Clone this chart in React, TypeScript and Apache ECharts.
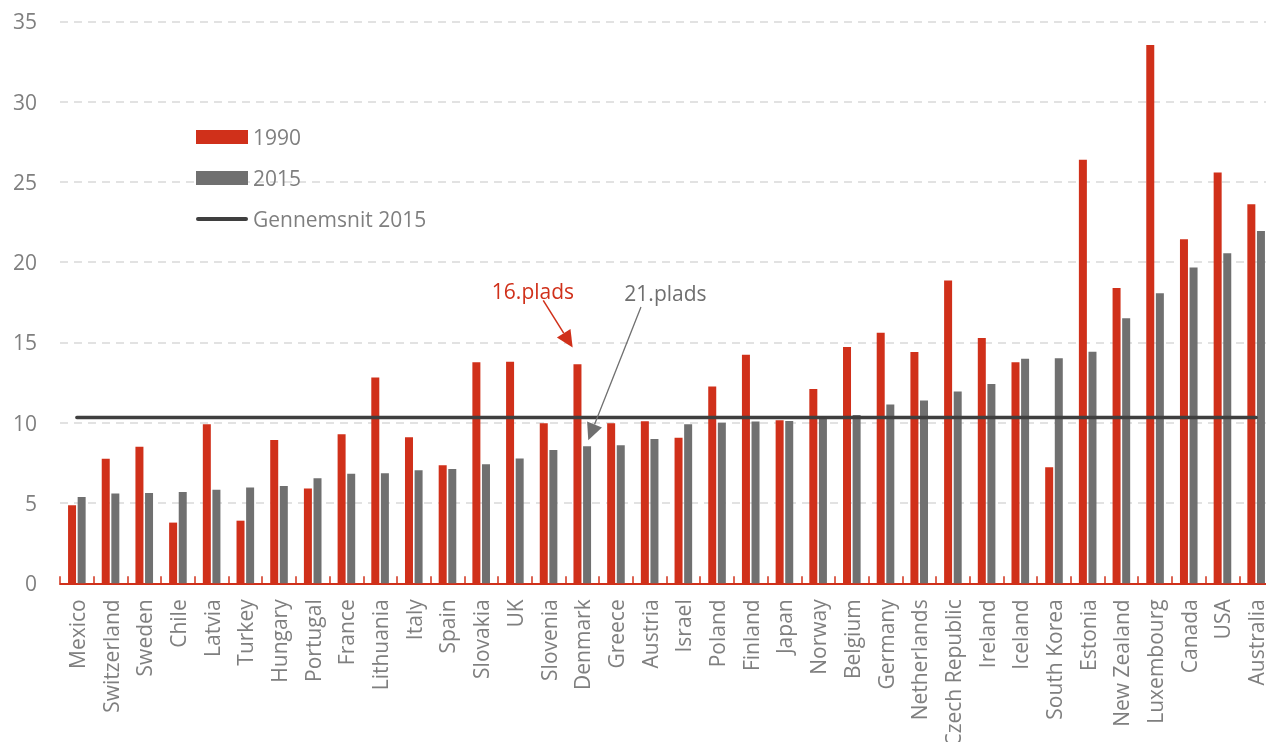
import { useEffect, useRef } from "react";
import * as echarts from "echarts";

const countries = [
  "Mexico", "Switzerland", "Sweden", "Chile", "Latvia", "Turkey", "Hungary", "Portugal", "France",
  "Lithuania", "Italy", "Spain", "Slovakia", "UK", "Slovenia", "Denmark", "Greece", "Austria",
  "Israel", "Poland", "Finland", "Japan", "Norway", "Belgium", "Germany", "Netherlands",
  "Czech Republic", "Ireland", "Iceland", "South Korea", "Estonia", "New Zealand", "Luxembourg",
  "Canada", "USA", "Australia",
];
const values1990 = [
  4.86, 7.76, 8.51, 3.78, 9.9, 3.9, 8.92, 5.9, 9.28, 12.81, 9.09, 7.35, 13.76, 13.8, 9.96, 13.64,
  9.96, 10.09, 9.07, 12.25, 14.24, 10.15, 12.1, 14.72, 15.61, 14.41, 18.85, 15.27, 13.77, 7.22,
  26.38, 18.39, 33.52, 21.42, 25.59, 23.61,
];
const values2015 = [
  5.37, 5.6, 5.62, 5.69, 5.83, 5.96, 6.06, 6.54, 6.83, 6.85, 7.04, 7.12, 7.41, 7.78, 8.3, 8.53,
  8.59, 8.99, 9.9, 10.0, 10.07, 10.1, 10.25, 10.48, 11.13, 11.39, 11.94, 12.41, 13.99, 14.01,
  14.42, 16.51, 18.06, 19.66, 20.56, 21.94,
];
const average2015 = 10.33;
const yTicks = { min: 0, max: 35, interval: 5 };
const legendNames = ["1990", "2015", "Gennemsnit 2015"];
const annotationCountry = "Denmark";
const annotationTexts = ["16.plads", "21.plads"];

const RED = "#d0301a";
const GRAY = "#707070";
const DARK = "#3f3f3f";
const LABEL = "#7f7f7f";
const FONT = "Open Sans";

function arrow(x1: number, y1: number, x2: number, y2: number, color: string, L: number, W: number, lw: number) {
  const dx = x2 - x1;
  const dy = y2 - y1;
  const len = Math.sqrt(dx * dx + dy * dy);
  const ux = dx / len;
  const uy = dy / len;
  const bx = x2 - ux * L;
  const by = y2 - uy * L;
  const px = -uy;
  const py = ux;
  return [
    { type: "line", silent: true, z: 100, shape: { x1, y1, x2: bx, y2: by }, style: { stroke: color, lineWidth: lw } },
    {
      type: "polygon",
      silent: true,
      z: 100,
      shape: { points: [[x2, y2], [bx + px * W, by + py * W], [bx - px * W, by - py * W]] },
      style: { fill: color },
    },
  ];
}

export default function App() {
  const ref = useRef<HTMLDivElement>(null);
  useEffect(() => {
    if (!ref.current) return;
    const chart = echarts.init(ref.current, undefined, { renderer: "svg" });
    chart.setOption({
      animation: false,
      textStyle: { fontFamily: FONT },
      grid: { left: 60, top: 21.3, width: 1213, bottom: 158.7, containLabel: false, outerBoundsMode: "none" },
      legend: {
        orient: "vertical",
        left: 196,
        top: 126.5,
        padding: 0,
        itemWidth: 52,
        itemHeight: 14,
        itemGap: 20,
        textStyle: { fontSize: 21, color: LABEL, fontFamily: FONT, lineHeight: 21 },
        data: [
          { name: legendNames[0], icon: "rect" },
          { name: legendNames[1], icon: "rect" },
          { name: legendNames[2], icon: "path://M2,0H50A2,2,0,0,1,50,4H2A2,2,0,0,1,2,0Z", itemStyle: { color: DARK } },
        ],
      },
      xAxis: {
        type: "category",
        data: countries,
        axisLine: { lineStyle: { color: RED, width: 2 } },
        axisTick: { show: true, inside: true, length: 7, lineStyle: { color: RED, width: 1.5 } },
        axisLabel: { rotate: 90, fontSize: 21, color: LABEL, fontFamily: FONT, margin: 16, interval: 0 },
        splitLine: { show: false },
      },
      yAxis: {
        type: "value",
        min: yTicks.min,
        max: yTicks.max,
        interval: yTicks.interval,
        axisLine: { show: false },
        axisTick: { show: false },
        axisLabel: { fontSize: 21, color: LABEL, fontFamily: FONT, margin: 23 },
        splitLine: { lineStyle: { color: "#d9d9d9", type: [8, 6], width: 1.5 } },
      },
      series: [
        { name: legendNames[0], type: "bar", data: values1990, barWidth: 8, barGap: "20%", itemStyle: { color: RED } },
        { name: legendNames[1], type: "bar", data: values2015, barWidth: 8, barGap: "20%", itemStyle: { color: GRAY } },
        {
          name: legendNames[2],
          type: "line",
          data: countries.map(() => average2015),
          symbol: "none",
          z: 5,
          lineStyle: { color: DARK, width: 3.5, cap: "round" },
          itemStyle: { color: DARK },
        },
      ],
    });

    const p = chart.convertToPixel({ xAxisIndex: 0, yAxisIndex: 0 }, [annotationCountry, 0]) as number[];
    const xc = p[0];
    const y0 = p[1];
    const graphic: any[] = [
      {
        type: "text",
        silent: true,
        z: 100,
        style: {
          text: annotationTexts[0],
          x: xc - 49.3,
          y: y0 - 292,
          fill: RED,
          fontSize: 21,
          fontFamily: FONT,
          align: "center",
          verticalAlign: "middle",
        },
      },
      {
        type: "text",
        silent: true,
        z: 100,
        style: {
          text: annotationTexts[1],
          x: xc + 83.2,
          y: y0 - 290,
          fill: "#6f6f6f",
          fontSize: 21,
          fontFamily: FONT,
          align: "center",
          verticalAlign: "middle",
        },
      },
      ...arrow(xc - 39, y0 - 283, xc - 9.6, y0 - 235.7, RED, 17, 8, 1.5),
      ...arrow(xc + 58.7, y0 - 276.3, xc + 6, y0 - 143, "#6f6f6f", 17, 8, 1.3),
    ];
    chart.setOption({ graphic });
    return () => chart.dispose();
  }, []);
  return <div ref={ref} style={{ position: "fixed", left: 0, top: 0, width: 1266, height: 742 }} />;
}
